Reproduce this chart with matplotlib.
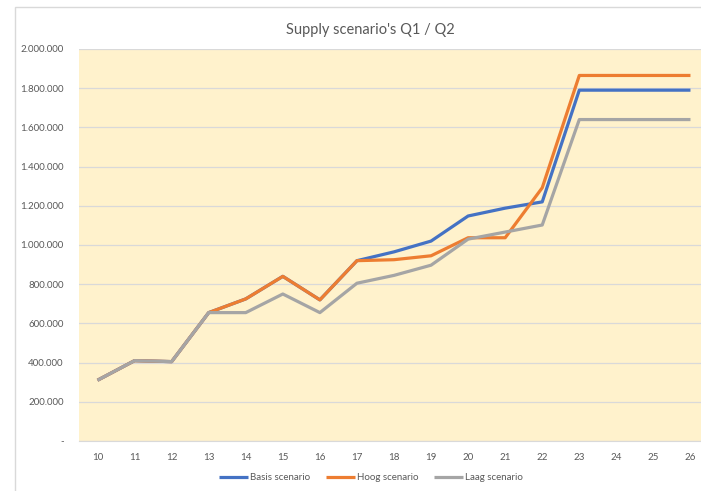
import matplotlib.pyplot as plt
from matplotlib.ticker import FuncFormatter, MultipleLocator
from matplotlib.patches import Rectangle

plt.rcParams['font.family'] = ['Lato', 'DejaVu Sans']

# data
weeks = list(range(10, 27))
basis = [310000, 410000, 405000, 655000, 725000, 840000, 720000, 920000, 965000,
         1020000, 1148000, 1188000, 1220000, 1790000, 1790000, 1790000, 1790000]
hoog = [310000, 410000, 405000, 655000, 725000, 840000, 720000, 920000, 925000,
        945000, 1037000, 1037000, 1292000, 1865000, 1865000, 1865000, 1865000]
laag = [310000, 410000, 405000, 655000, 655000, 750000, 655000, 805000, 845000,
        897000, 1030000, 1066000, 1102000, 1640000, 1640000, 1640000, 1640000]

series = [('Basis scenario', basis, '#4472C4'),
          ('Hoog scenario', hoog, '#ED7D31'),
          ('Laag scenario', laag, '#A5A5A5')]

W, H = 701, 491
fig = plt.figure(figsize=(W / 100, H / 100), dpi=100)

# outer chart border (Excel chart area)
fig.patches.append(Rectangle((15 / W, -0.1), 1.1, (H - 7) / H + 0.1,
                             transform=fig.transFigure, fill=False,
                             edgecolor='#D9D9D9', linewidth=1))

ax = fig.add_axes([79 / W, (H - 441) / H, (709 - 79) / W, (441 - 49) / H])
ax.set_facecolor('#FFF2CC')

for name, vals, col in series:
    ax.plot(weeks, vals, color=col, linewidth=2.3, label=name,
            solid_joinstyle='round', solid_capstyle='butt')
# draw Basis on top where it overlaps? keep Excel order (later series on top)

ax.set_xlim(weeks[0] - 0.5, weeks[-1] + 0.5)
ax.set_ylim(0, 2000000)
ax.set_xticks(weeks)
ax.yaxis.set_major_locator(MultipleLocator(200000))


def fmt(v, pos):
    if v == 0:
        return '-'
    return f'{int(v):,}'.replace(',', '.')


ax.yaxis.set_major_formatter(FuncFormatter(fmt))
ax.grid(axis='y', color='#D9D9D9', linewidth=0.9)
ax.set_axisbelow(True)
for s in ['top', 'right', 'left']:
    ax.spines[s].set_visible(False)
ax.spines['bottom'].set_color('#D9D9D9')
ax.tick_params(axis='both', length=0, labelsize=7, labelcolor='#595959')
ax.tick_params(axis='x', pad=9)
ax.tick_params(axis='y', pad=11)

fig.text(370 / W, 1 - 30 / H, "Supply scenario's Q1 / Q2", ha='center', va='center',
         fontsize=10.5, color='#595959')

fig.legend(loc='center', bbox_to_anchor=(371 / W, 1 - 478 / H), ncol=3,
           frameon=False, fontsize=7, labelcolor='#595959', handlelength=3,
           handletextpad=0.2, columnspacing=1.6)

fig.savefig('out.png', dpi=100)
